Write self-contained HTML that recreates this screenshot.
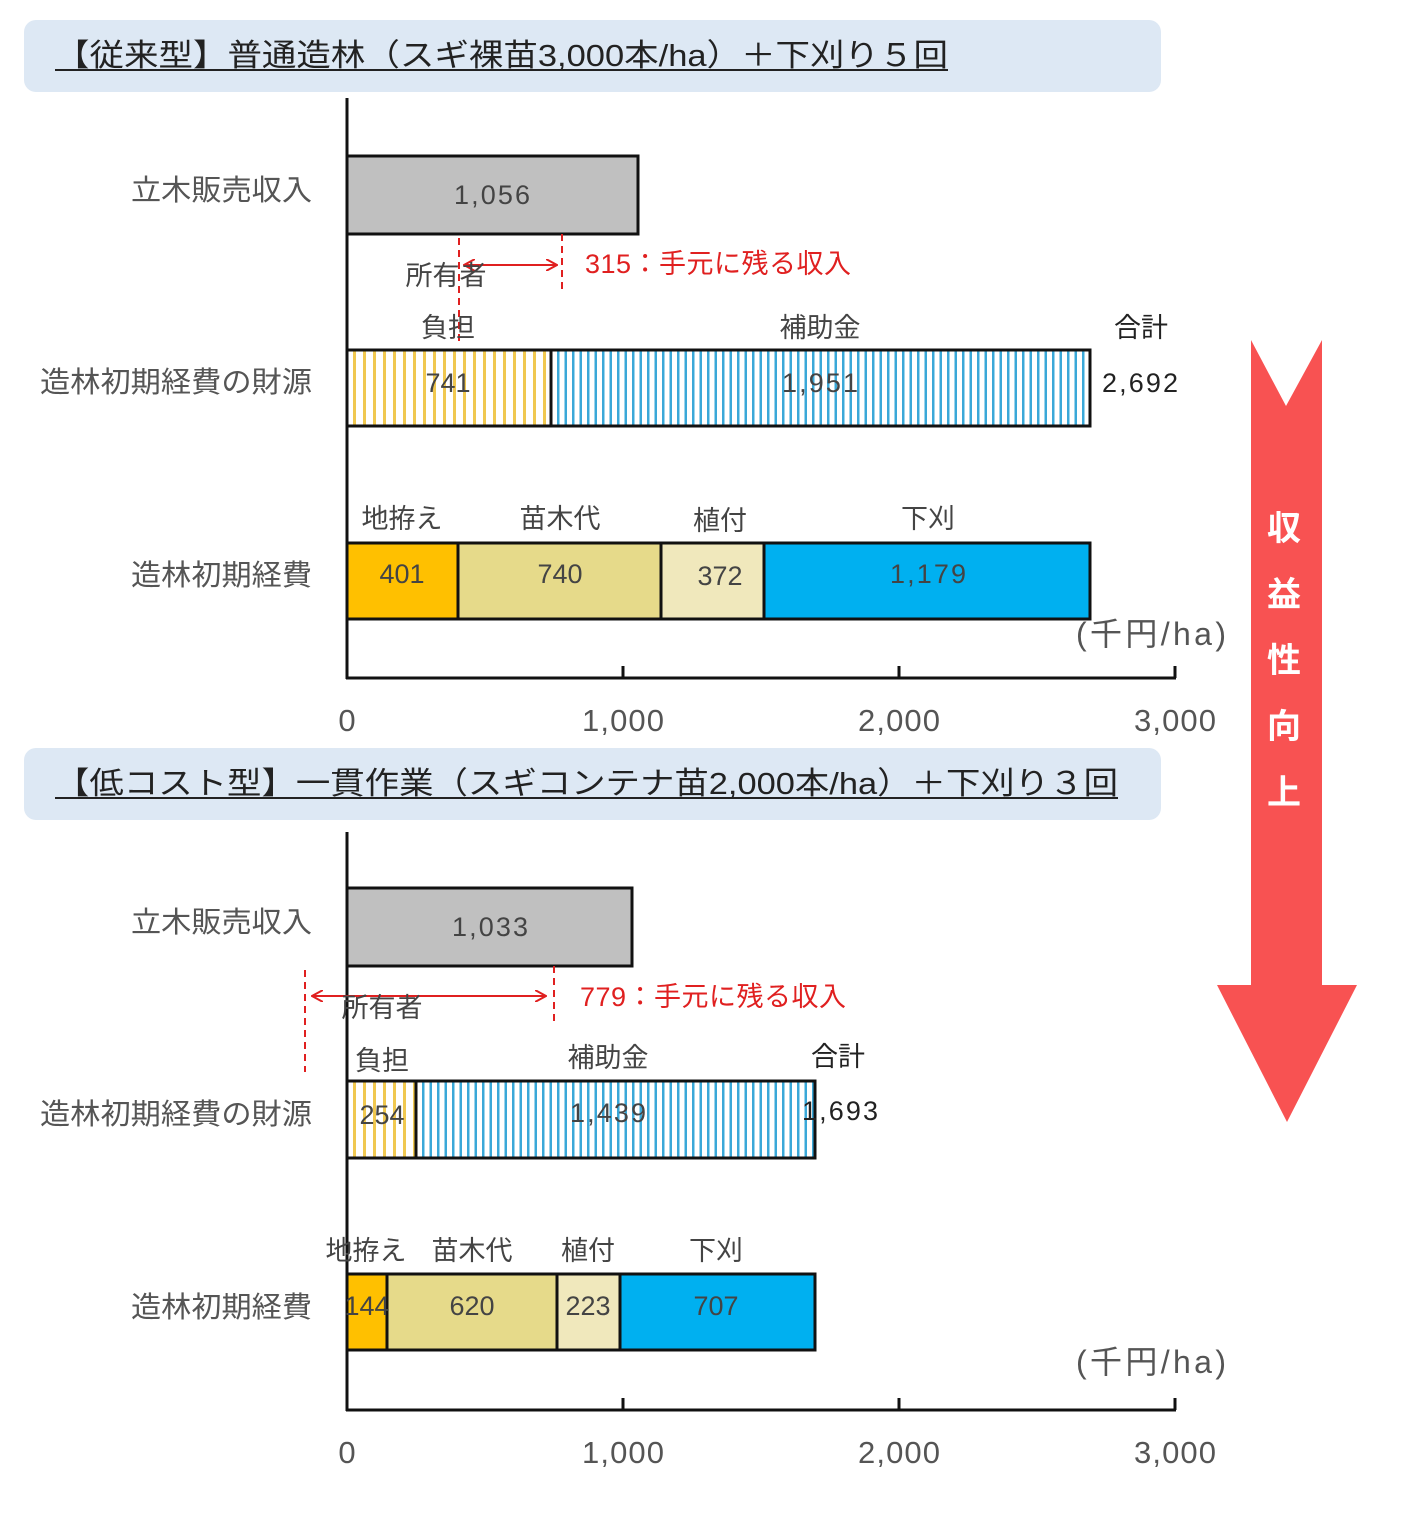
<!DOCTYPE html>
<html><head><meta charset="utf-8"><style>body{margin:0;background:#fff}svg{display:block}text{font-family:"Liberation Sans","Noto Sans CJK JP",sans-serif}</style></head><body>
<svg width="1401" height="1536" viewBox="0 0 1401 1536">
<defs>
<pattern id="py" width="10" height="10" patternUnits="userSpaceOnUse"><rect width="10" height="10" fill="#fff"/><rect x="3" width="3" height="10" fill="#f0c850"/></pattern>
<pattern id="pb" width="7.5" height="10" patternUnits="userSpaceOnUse"><rect width="7.5" height="10" fill="#fff"/><rect x="2" width="2.5" height="10" fill="#3aa8d8"/></pattern>
<marker id="ah" markerWidth="12" markerHeight="12" refX="10" refY="6" orient="auto-start-reverse" markerUnits="userSpaceOnUse"><path d="M0,0 L11,6 L0,12" fill="none" stroke="#e02020" stroke-width="2"/></marker>
</defs>
<g fill="#333" font-size="27">
<path d="M1251,340 L1286,406 L1322,340 L1322,985 L1357,985 L1287,1122 L1217,985 L1251,985 Z" fill="#f85252"/>
<g fill="#fff" font-weight="bold" font-size="34" text-anchor="middle"><text x="1284" y="540">収</text><text x="1284" y="606">益</text><text x="1284" y="672">性</text><text x="1284" y="738">向</text><text x="1284" y="804">上</text></g>

<!-- Chart 1 -->
<rect x="24" y="20" width="1137" height="72" rx="12" fill="#dde8f4"/>
<text x="55" y="66" font-size="31" fill="#222" textLength="893" lengthAdjust="spacingAndGlyphs">【従来型】普通造林（スギ裸苗3,000本/ha）＋下刈り５回</text>
<line x1="55" y1="70" x2="948" y2="70" stroke="#222" stroke-width="2"/>
<line x1="347" y1="98" x2="347" y2="679" stroke="#111" stroke-width="3"/>
<line x1="346" y1="678" x2="1176" y2="678" stroke="#111" stroke-width="3"/>
<g stroke="#111" stroke-width="3"><line x1="623" y1="666" x2="623" y2="678"/><line x1="899" y1="666" x2="899" y2="678"/><line x1="1175" y1="666" x2="1175" y2="678"/></g>
<g text-anchor="middle" font-size="31" fill="#555"><text x="347" y="731">0</text><text x="623" y="731" textLength="82">1,000</text><text x="899" y="731" textLength="82">2,000</text><text x="1175" y="731" textLength="82">3,000</text></g>
<text x="1076" y="645" font-size="32" fill="#555" textLength="150">(千円/ha)</text>
<g fill="#555" font-size="29"><text x="131" y="200" textLength="181" lengthAdjust="spacingAndGlyphs">立木販売収入</text><text x="40" y="392" textLength="272" lengthAdjust="spacingAndGlyphs">造林初期経費の財源</text><text x="131" y="585" textLength="181" lengthAdjust="spacingAndGlyphs">造林初期経費</text></g>
<rect x="347" y="156" width="291" height="78" fill="#c0c0c0" stroke="#111" stroke-width="3"/>
<text x="492" y="204" text-anchor="middle" fill="#444" textLength="76">1,056</text>
<line x1="459" y1="238" x2="459" y2="345" stroke="#e02020" stroke-width="2" stroke-dasharray="7,5"/>
<line x1="562" y1="234" x2="562" y2="290" stroke="#e02020" stroke-width="2" stroke-dasharray="7,5"/>
<line x1="465" y1="265" x2="556" y2="265" stroke="#e02020" stroke-width="2" marker-start="url(#ah)" marker-end="url(#ah)"/>
<text x="585" y="273" fill="#e02020" textLength="266">315：手元に残る収入</text>
<text x="446" y="285" text-anchor="middle" fill="#444">所有者</text>
<text x="448" y="337" text-anchor="middle" fill="#444">負担</text>
<text x="820" y="337" text-anchor="middle" fill="#444">補助金</text>
<text x="1141" y="337" text-anchor="middle" fill="#222">合計</text>
<rect x="347" y="350" width="204" height="76" fill="url(#py)" stroke="#111" stroke-width="3"/>
<rect x="551" y="350" width="539" height="76" fill="url(#pb)" stroke="#111" stroke-width="3"/>
<text x="448" y="392" text-anchor="middle" fill="#444">741</text>
<text x="820" y="392" text-anchor="middle" fill="#444" textLength="76">1,951</text>
<text x="1102" y="392" fill="#222" textLength="76">2,692</text>
<g text-anchor="middle" fill="#444"><text x="402" y="528">地拵え</text><text x="560" y="528">苗木代</text><text x="720" y="530">植付</text><text x="928" y="528">下刈</text></g>
<g stroke="#111" stroke-width="3"><rect x="347" y="543" width="111" height="76" fill="#ffc000"/><rect x="458" y="543" width="203" height="76" fill="#e6da8a"/><rect x="661" y="543" width="103" height="76" fill="#f0e8bc"/><rect x="764" y="543" width="326" height="76" fill="#00b0f0"/></g>
<g text-anchor="middle" fill="#444"><text x="402" y="583">401</text><text x="560" y="583">740</text><text x="720" y="585">372</text><text x="928" y="583" textLength="76">1,179</text></g>

<!-- Chart 2 -->
<rect x="24" y="748" width="1137" height="72" rx="12" fill="#dde8f4"/>
<text x="55" y="794" font-size="31" fill="#222" textLength="1063" lengthAdjust="spacingAndGlyphs">【低コスト型】一貫作業（スギコンテナ苗2,000本/ha）＋下刈り３回</text>
<line x1="55" y1="798" x2="1118" y2="798" stroke="#222" stroke-width="2"/>
<line x1="347" y1="832" x2="347" y2="1411" stroke="#111" stroke-width="3"/>
<line x1="346" y1="1410" x2="1176" y2="1410" stroke="#111" stroke-width="3"/>
<g stroke="#111" stroke-width="3"><line x1="623" y1="1398" x2="623" y2="1410"/><line x1="899" y1="1398" x2="899" y2="1410"/><line x1="1175" y1="1398" x2="1175" y2="1410"/></g>
<g text-anchor="middle" font-size="31" fill="#555"><text x="347" y="1463">0</text><text x="623" y="1463" textLength="82">1,000</text><text x="899" y="1463" textLength="82">2,000</text><text x="1175" y="1463" textLength="82">3,000</text></g>
<text x="1076" y="1373" font-size="32" fill="#555" textLength="150">(千円/ha)</text>
<g fill="#555" font-size="29"><text x="131" y="932" textLength="181" lengthAdjust="spacingAndGlyphs">立木販売収入</text><text x="40" y="1124" textLength="272" lengthAdjust="spacingAndGlyphs">造林初期経費の財源</text><text x="131" y="1317" textLength="181" lengthAdjust="spacingAndGlyphs">造林初期経費</text></g>
<rect x="347" y="888" width="285" height="78" fill="#c0c0c0" stroke="#111" stroke-width="3"/>
<text x="490" y="936" text-anchor="middle" fill="#444" textLength="76">1,033</text>
<line x1="305" y1="970" x2="305" y2="1072" stroke="#e02020" stroke-width="2" stroke-dasharray="7,5"/>
<line x1="554" y1="966" x2="554" y2="1022" stroke="#e02020" stroke-width="2" stroke-dasharray="7,5"/>
<line x1="313" y1="996" x2="545" y2="996" stroke="#e02020" stroke-width="2" marker-start="url(#ah)" marker-end="url(#ah)"/>
<text x="580" y="1006" fill="#e02020" textLength="266">779：手元に残る収入</text>
<text x="382" y="1017" text-anchor="middle" fill="#444">所有者</text>
<text x="382" y="1070" text-anchor="middle" fill="#444">負担</text>
<text x="608" y="1067" text-anchor="middle" fill="#444">補助金</text>
<text x="838" y="1066" text-anchor="middle" fill="#222">合計</text>
<rect x="347" y="1081" width="69" height="77" fill="url(#py)" stroke="#111" stroke-width="3"/>
<rect x="416" y="1081" width="399" height="77" fill="url(#pb)" stroke="#111" stroke-width="3"/>
<text x="382" y="1124" text-anchor="middle" fill="#444">254</text>
<text x="608" y="1122" text-anchor="middle" fill="#444" textLength="76">1,439</text>
<text x="802" y="1120" fill="#222" textLength="76">1,693</text>
<g text-anchor="middle" fill="#444"><text x="366" y="1260">地拵え</text><text x="472" y="1260">苗木代</text><text x="588" y="1260">植付</text><text x="716" y="1260">下刈</text></g>
<g stroke="#111" stroke-width="3"><rect x="347" y="1274" width="40" height="76" fill="#ffc000"/><rect x="387" y="1274" width="170" height="76" fill="#e6da8a"/><rect x="557" y="1274" width="63" height="76" fill="#f0e8bc"/><rect x="620" y="1274" width="195" height="76" fill="#00b0f0"/></g>
<g text-anchor="middle" fill="#444"><text x="367" y="1315">144</text><text x="472" y="1315">620</text><text x="588" y="1315">223</text><text x="716" y="1315">707</text></g>
</g>
</svg>
</body></html>
